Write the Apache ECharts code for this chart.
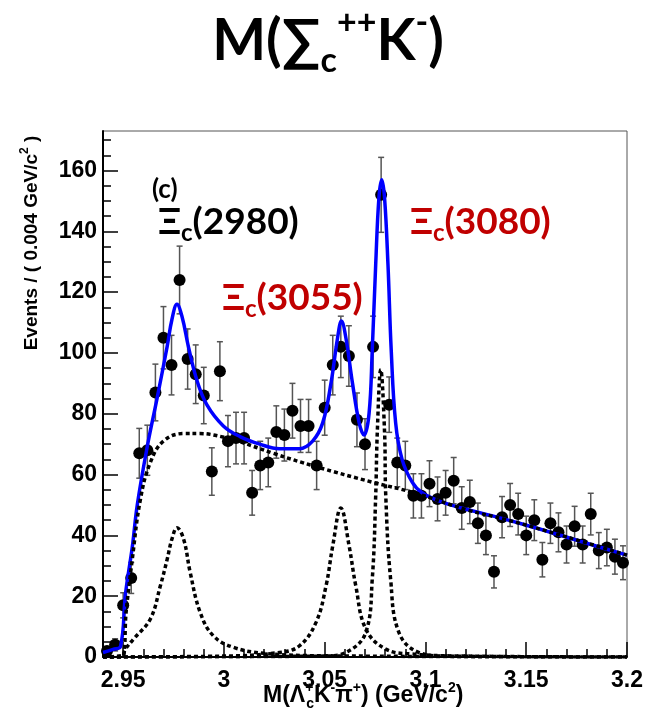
<!DOCTYPE html>
<html>
<head>
<meta charset="utf-8">
<script src="https://cdn.jsdelivr.net/npm/echarts@6/dist/echarts.min.js"></script>
<style>html,body{margin:0;padding:0;background:#fff}#c{width:646px;height:714px}</style>
</head>
<body>
<div id="c"></div>
<script>
// Histogram: bins of 0.004 GeV/c^2 starting at 2.94
const binLow = 2.94;
const binWidth = 0.004;
const counts = [2,4,17,26,67,68,87,105,96,124,98,93,86,61,94,71,72,72,54,63,
  64,74,73,81,76,76,63,82,96,102,99,78,70,102,152,83,64,63,53,53,
  57,52,54,58,49,51,44,40,28,46,50,47,40,45,32,44,41,37,43,37,
  47,35,36,33,31];

// Fitted curves: [mass, events]
const fitTotal = [[2.940,1.5],[2.945,2.5],[2.9487,3.5],[2.9512,21],[2.9545,36],[2.957,50],[2.9619,69],
  [2.9668,85],[2.9718,102],[2.9742,111],[2.9767,116],[2.9792,112],[2.9824,102],[2.9866,91],[2.9915,83],
  [2.9997,76],[3.008,72.5],[3.0178,70],[3.0276,68.5],[3.0375,68.5],[3.044,71],[3.049,77],[3.0531,90],
  [3.0564,105],[3.0583,110.5],[3.0605,105],[3.0638,90],[3.0671,77],[3.0695,73],[3.072,80],[3.0736,101],
  [3.0753,129],[3.0769,151],[3.0783,157],[3.0797,151],[3.0814,129],[3.083,101],[3.0852,77],[3.0884,65],
  [3.0934,57.5],[3.0983,54],[3.108,51],[3.1179,49],[3.1328,46.5],[3.1493,43.5],[3.1657,40.3],[3.1821,37],[3.2,33.5]];
const background = [[2.94,0],[2.9495,0],[2.9515,15],[2.9545,32],[2.9586,52],[2.9635,64],[2.970,71],
  [2.980,73.5],[2.988,73.5],[3.0,72.3],[3.008,70.8],[3.0244,67],[3.0457,62.6],[3.0736,57.5],[3.095,53.9],
  [3.12,48.5],[3.141,45],[3.17,39.5],[3.2,33.5]];
const signal2980 = [[2.94,0],[2.9495,0.5],[2.951,2.5],[2.9553,6],[2.9635,12.5],[2.9685,23.5],[2.9718,32],
  [2.9742,38.8],[2.9767,42.5],[2.980,38.8],[2.9832,28],[2.9882,14.7],[2.9947,7],[3.0046,3.2],[3.02,1.2],
  [3.05,0.4],[3.2,0]];
const signal3055 = [[2.94,0],[3.0,0.3],[3.0276,1.5],[3.0375,3.7],[3.0457,11.4],[3.0507,23.5],[3.054,36.6],
  [3.058,49],[3.0621,36.6],[3.0654,23.5],[3.0704,9.2],[3.0803,2.6],[3.093,1],[3.12,0.3],[3.2,0]];
const signal3080 = [[2.94,0],[3.05,0.3],[3.0605,1.5],[3.0704,8.1],[3.0736,25.7],[3.0753,53],[3.0761,74],
  [3.0778,94.5],[3.0797,74],[3.0803,53],[3.0827,25.7],[3.0868,8.1],[3.0967,1.5],[3.11,0.3],[3.2,0]];

// Axis ticks and labels
const xMajor = [2.95,3.0,3.05,3.1,3.15,3.2];
const xMajorLabels = ['2.95','3','3.05','3.1','3.15','3.2'];
const xMinor = [2.94,2.96,2.97,2.98,2.99,3.01,3.02,3.03,3.04,3.06,3.07,3.08,3.09,3.11,3.12,3.13,3.14,3.16,3.17,3.18,3.19];
const yMajor = [0,20,40,60,80,100,120,140,160];
const yMajorLabels = ['0','20','40','60','80','100','120','140','160'];
const yMinor = [5,10,15,25,30,35,45,50,55,65,70,75,85,90,95,105,110,115,125,130,135,145,150,155,165,170];

const points = counts.map((c, i) => [binLow + binWidth * (i + 0.5), c, Math.sqrt(c)]);

const AX = 'Liberation Sans';
const TF = 'Lato';

const chart = echarts.init(document.getElementById('c'), null, {renderer: 'canvas'});

function fmt(list, labels) {
  return v => { for (let i = 0; i < list.length; i++) if (Math.abs(list[i] - v) < 1e-6) return labels[i]; return ''; };
}

const dotted = {color: '#000', width: 3.5, type: [4, 3]};
const SM = 0.4;

chart.setOption({
  animation: false,
  backgroundColor: '#fff',
  grid: {left: 103, top: 131, right: 17, bottom: 57, show: true, borderColor: '#555', borderWidth: 1, backgroundColor: 'transparent'},
  xAxis: [
    {type: 'value', min: 2.94, max: 3.2, position: 'bottom',
     axisLine: {show: true, lineStyle: {color: '#000', width: 2}},
     axisTick: {show: true, inside: true, length: 15, customValues: xMajor, lineStyle: {color: '#000', width: 1.5}},
     axisLabel: {show: true, customValues: xMajor, formatter: fmt(xMajor, xMajorLabels), margin: 12,
       fontFamily: AX, fontWeight: 'bold', fontSize: 23, color: '#000'},
     splitLine: {show: false}},
    {type: 'value', min: 2.94, max: 3.2, position: 'bottom',
     axisLine: {show: false},
     axisTick: {show: true, inside: true, length: 8, customValues: xMinor, lineStyle: {color: '#000', width: 1.5}},
     axisLabel: {show: false}, splitLine: {show: false}}
  ],
  yAxis: [
    {type: 'value', min: 0, max: 173, position: 'left',
     axisLine: {show: true, lineStyle: {color: '#000', width: 2}},
     axisTick: {show: true, inside: true, length: 15, customValues: yMajor, lineStyle: {color: '#000', width: 1.5}},
     axisLabel: {show: true, customValues: yMajor, formatter: fmt(yMajor, yMajorLabels), margin: 6,
       fontFamily: AX, fontWeight: 'bold', fontSize: 23, color: '#000'},
     splitLine: {show: false}},
    {type: 'value', min: 0, max: 173, position: 'left',
     axisLine: {show: false},
     axisTick: {show: true, inside: true, length: 8, customValues: yMinor, lineStyle: {color: '#000', width: 1.5}},
     axisLabel: {show: false}, splitLine: {show: false}}
  ],
  series: [
    {type: 'custom', name: 'errors', data: points, clip: true, z: 2,
     renderItem: function (params, api) {
       const x = api.value(0), y = api.value(1), e = api.value(2);
       const top = api.coord([x, y + e]);
       const bot = api.coord([x, Math.max(0, y - e)]);
       const st = {stroke: '#555', lineWidth: 1.5};
       return {type: 'group', children: [
         {type: 'line', shape: {x1: top[0], y1: top[1], x2: bot[0], y2: bot[1]}, style: st},
         {type: 'line', shape: {x1: top[0] - 3, y1: top[1], x2: top[0] + 3, y2: top[1]}, style: st},
         {type: 'line', shape: {x1: bot[0] - 3, y1: bot[1], x2: bot[0] + 3, y2: bot[1]}, style: st}
       ]};
     }},
    {type: 'scatter', name: 'data', data: points.map(p => [p[0], p[1]]), symbol: 'circle', symbolSize: 12,
     itemStyle: {color: '#000', opacity: 1}, z: 3},
    {type: 'line', name: 'fit', data: fitTotal, smooth: SM, showSymbol: false,
     lineStyle: {color: '#0000ff', width: 3.5}, z: 4},
    {type: 'line', name: 'bkg', data: background, smooth: SM, showSymbol: false,
     lineStyle: dotted, z: 5},
    {type: 'line', name: 's2980', data: signal2980, smooth: SM, showSymbol: false,
     lineStyle: dotted, z: 5},
    {type: 'line', name: 's3055', data: signal3055, smooth: SM, showSymbol: false,
     lineStyle: dotted, z: 5},
    {type: 'line', name: 's3080', data: signal3080, smooth: SM, showSymbol: false,
     lineStyle: dotted, z: 5}
  ],
  graphic: [
    {type: 'text', x: 328, y: 42, z: 10, style: {
      text: '{m|M(∑}{sub|c}{sup|++}{m|K}{sup|-}{m|)}', align: 'center', verticalAlign: 'middle',
      rich: {
        m: {fontFamily: TF, fontWeight: 'bold', fontSize: 57, lineHeight: 72, fill: '#000', verticalAlign: 'middle'},
        sub: {fontFamily: TF, fontWeight: 'bold', fontSize: 34, fill: '#000', verticalAlign: 'bottom'},
        sup: {fontFamily: TF, fontWeight: 'bold', fontSize: 34, fill: '#000', verticalAlign: 'top'}
      }}},
    {type: 'text', x: 152, y: 190, z: 10, style: {text: '(c)', fontFamily: TF, fontWeight: 'bold', fontSize: 26, fill: '#000', verticalAlign: 'middle'}},
    {type: 'text', x: 158, y: 222, z: 10, style: {
      text: '{m|Ξ}{sub|c}{m|(2980)}', verticalAlign: 'middle',
      rich: {m: {fontFamily: TF, fontWeight: 'bold', fontSize: 37, lineHeight: 46, fill: '#000'},
             sub: {fontFamily: TF, fontWeight: 'bold', fontSize: 24, fill: '#000', verticalAlign: 'bottom'}}}},
    {type: 'text', x: 222, y: 298, z: 10, style: {
      text: '{m|Ξ}{sub|c}{m|(3055)}', verticalAlign: 'middle',
      rich: {m: {fontFamily: TF, fontWeight: 'bold', fontSize: 37, lineHeight: 46, fill: '#c00000'},
             sub: {fontFamily: TF, fontWeight: 'bold', fontSize: 24, fill: '#c00000', verticalAlign: 'bottom'}}}},
    {type: 'text', x: 410, y: 222, z: 10, style: {
      text: '{m|Ξ}{sub|c}{m|(3080)}', verticalAlign: 'middle',
      rich: {m: {fontFamily: TF, fontWeight: 'bold', fontSize: 37, lineHeight: 46, fill: '#c00000'},
             sub: {fontFamily: TF, fontWeight: 'bold', fontSize: 24, fill: '#c00000', verticalAlign: 'bottom'}}}},
    {type: 'text', x: 32, y: 243, rotation: Math.PI / 2, z: 10, style: {
      text: '{m|Events / ( 0.004 GeV/c}{sup|2}{m| )}', align: 'center', verticalAlign: 'middle',
      rich: {m: {fontFamily: AX, fontWeight: 'bold', fontSize: 19, lineHeight: 26, fill: '#000'},
             sup: {fontFamily: AX, fontWeight: 'bold', fontSize: 12, fill: '#000', verticalAlign: 'top'}}}},
    {type: 'text', x: 263, y: 696, z: 10, style: {
      text: '{m|M(Λ}{supn|+}{sub|c}{m|K}{sup|-}{m|π}{sup|+}{m|) (GeV/c}{sup|2}{m|)}', verticalAlign: 'middle',
      rich: {m: {fontFamily: AX, fontWeight: 'bold', fontSize: 23, lineHeight: 30, fill: '#000'},
             sup: {fontFamily: AX, fontWeight: 'bold', fontSize: 14, fill: '#000', verticalAlign: 'top'},
             supn: {fontFamily: AX, fontWeight: 'bold', fontSize: 14, fill: '#000', verticalAlign: 'top', width: 1},
             sub: {fontFamily: AX, fontWeight: 'bold', fontSize: 14, fill: '#000', verticalAlign: 'bottom'}}}}
  ]
});
</script>
</body>
</html>
